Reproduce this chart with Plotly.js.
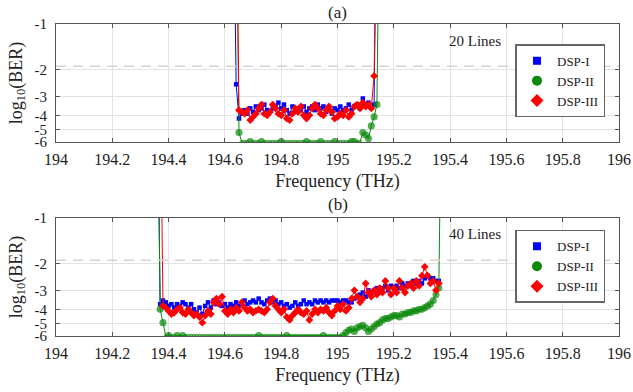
<!DOCTYPE html>
<html><head><meta charset="utf-8">
<script src="https://cdn.plot.ly/plotly-3.0.1.min.js"></script>
<style>html,body{margin:0;padding:0;background:#fff}#chart{width:633px;height:392px}</style>
</head><body><div id="chart"></div>
<script>
// ---- frequency grids (THz): start + step ----
const startA = 194.63;   // panel (a) first sample
const startB = 194.36;   // panel (b) first sample
const stepF = 0.01;

// ---- panel (a): 20 Lines, log10(BER) ----
const dsp1A = [
  -0.1, -2.5, -4.2, -3.9, -3.7, -3.9, -3.6, -3.8, -3.5, -3.7,
  -3.6, -3.4, -3.7, -3.8, -3.6, -3.5, -3.3, -3.6, -3.4, -3.7,
  -3.9, -3.5, -3.8, -3.6, -3.7, -3.5, -3.8, -3.6, -3.5, -3.7,
  -3.4, -3.6, -3.5, -3.8, -3.6, -3.9, -3.6, -3.7, -3.5, -3.7,
  -3.6, -3.4, -3.7, -3.5, -3.4, -3.6, -3.1, -3.4, -3.3, -3.5,
  -3.4, -0.1, null
];
const dsp2A = [
  null, -0.1, -5.2, -6, -6, -6, -5.95, -6, -6, -6,
  -5.95, -6, -6, -6, -6, -6, -6, -5.95, -6, -6,
  -6, -6, -6, -6, -6, -6, -5.95, -6, -6, -6,
  -6, -5.95, -6, -6, -6, -6, -5.95, -6, -6, -6,
  -6, -6, -5.95, -5.95, -6, -6, -5.2, -5.4, -5.7, -4.7,
  -4.1, -3.4, -0.1
];
const dsp3A = [
  null, -0.1, -3.7, -3.8, -3.9, -3.7, -4.3, -4.1, -3.9, -3.6,
  -3.4, -3.9, -4.0, -3.8, -3.4, -3.6, -3.9, -4.0, -3.7, -4.2,
  -4.3, -3.9, -3.6, -3.8, -3.5, -4.0, -4.2, -4.0, -3.6, -3.4,
  -3.6, -3.9, -4.0, -3.7, -3.5, -3.8, -4.2, -4.1, -3.9, -4.0,
  -3.7, -4.1, -3.9, -3.5, -3.4, -3.6, -3.3, -3.5, -3.4, -3.6,
  -2.2, -0.1, null
];

// ---- panel (b): 40 Lines, log10(BER) ----
const dsp1B = [
  -0.1, -3.7, -3.5, -3.6, -3.8, -3.7, -3.9, -3.7, -3.8, -3.6,
  -3.7, -3.9, -3.7, -4.0, -4.2, -3.9, -4.3, -3.8, -3.6, -3.9,
  -3.5, -3.7, -3.6, -3.8, -3.7, -3.9, -3.7, -3.8, -3.6, -3.8,
  -3.7, -3.5, -3.7, -3.6, -3.5, -3.6, -3.4, -3.6, -3.7, -3.5,
  -3.4, -3.6, -3.5, -3.7, -3.6, -3.8, -3.7, -3.9, -3.8, -3.6,
  -3.8, -3.7, -3.5, -3.7, -3.6, -3.7, -3.5, -3.6, -3.5, -3.6,
  -3.5, -3.6, -3.5, -3.5, -3.5, -3.6, -3.5, -3.5, -3.6, -3.6,
  -3.4, -3.3, -3.2, -3.1, -3.3, -3.0, -3.1, -3.0, -2.9, -3.1,
  -2.9, -2.8, -3.0, -2.8, -2.9, -2.8, -2.9, -2.7, -2.8, -2.7,
  -2.8, -2.6, -2.7, -2.6, -2.7, -2.5, -2.4, -2.5, -2.5, -2.6,
  -2.6, null
];
const dsp2B = [
  -0.1, -4.0, -4.9, -6, -5.95, -6, -6, -5.95, -6, -5.95,
  -6, -6, -6, -6, -6, -6, -6, -6, -6, -6,
  -6, -6, -6, -6, -6, -6, -6, -6, -6, -6,
  -6, -6, -6, -6, -6, -6, -5.95, -6, -6, -6,
  -6, -6, -6, -6, -6, -6, -5.95, -6, -6, -6,
  -6, -6, -6, -6, -6, -6, -6, -6, -6, -5.95,
  -6, -6, -6, -6, -6, -6, -5.95, -5.7, -5.5, -5.4,
  -5.6, -5.3, -5.2, -5.1, -5.3, -5.6, -5.4, -5.2, -5.0, -4.9,
  -4.7, -4.6, -4.6, -4.5, -4.4, -4.4, -4.5, -4.3, -4.3, -4.2,
  -4.2, -4.1, -4.1, -4.0, -4.0, -3.9, -3.8, -3.7, -3.5, -3.2,
  -2.9, -0.1
];
const dsp3B = [
  null, -0.1, -3.8, -3.9, -4.1, -4.3, -4.2, -4.0, -3.9, -4.2,
  -4.3, -4.0, -4.2, -4.4, -4.3, -4.5, -4.9, -4.4, -4.1, -4.3,
  -3.6, -3.4, -3.7, -3.3, -4.1, -4.3, -4.0, -4.2, -3.9, -4.1,
  -3.6, -3.9, -4.1, -4.0, -4.2, -4.1, -4.0, -4.1, -4.2, -4.0,
  -3.6, -3.4, -3.8, -4.0, -4.2, -4.0, -4.5, -4.7, -4.4, -4.2,
  -4.0, -4.2, -4.3, -4.1, -4.7, -4.3, -4.0, -4.2, -4.0, -4.1,
  -3.9, -4.2, -4.4, -4.1, -3.8, -4.0, -3.7, -4.1, -3.9, -3.4,
  -3.0, -3.3, -3.6, -3.4, -2.7, -3.1, -3.3, -3.0, -3.2, -2.9,
  -3.1, -2.6, -2.9, -3.2, -2.9, -3.1, -2.6, -2.9, -3.1, -2.8,
  -2.7, -2.9, -2.6, -2.8, -2.4, -2.1, -2.4, -2.7, -2.6, -3.0,
  -2.7, null
];

const thresholdLog = -1.9;  // dashed FEC limit
const seriesNames = ['DSP-I', 'DSP-II', 'DSP-III'];
const panelTitles = ['(a)', '(b)'];
const panelNotes = ['20 Lines', '40 Lines'];
const xTickVals = [194, 194.2, 194.4, 194.6, 194.8, 195, 195.2, 195.4, 195.6, 195.8, 196];
const xTickText = ['194', '194.2', '194.4', '194.6', '194.8', '195', '195.2', '195.4', '195.6', '195.8', '196'];
const yTickVals = [-1, -2, -3, -4, -5, -6];
const yTickText = ['-1', '-2', '-3', '-4', '-5', '-6'];

// ---- helpers ----
const freqs = (start, n) => Array.from({length: n}, (_, i) => +(start + stepF * i).toFixed(3));
const mag = arr => arr.map(v => v === null ? null : -v);   // plotted on reversed log axis of -log10(BER)

const FONT = '"Liberation Serif", serif';
const colors = ['#0000ff', '#0a8a0a', '#ff0000'];
const styles = [
  {symbol: 'square', size: 4.5},
  {symbol: 'circle', size: 6},
  {symbol: 'diamond', size: 6}
];
const legendSizes = [8, 10, 10];

function traces(axisSuffix, legendId, xs, data) {
  const out = [];
  data.forEach((arr, k) => {
    const m = {color: colors[k], symbol: styles[k].symbol, size: styles[k].size, line: {width: 0}};
    if (k === 1) {
      m.size = arr.map(v => (v !== null && v <= -6) ? 3.2 : styles[1].size);
      m.symbol = arr.map(v => (v !== null && v <= -6) ? 'circle-open' : 'circle');
      m.line = {width: 1.1, color: colors[1]};
    }
    out.push({
      type: 'scatter', mode: 'lines+markers', x: xs, y: mag(arr),
      xaxis: 'x' + axisSuffix, yaxis: 'y' + axisSuffix,
      line: {color: colors[k], width: 1}, marker: m,
      showlegend: false, connectgaps: false, hoverinfo: 'x+y'
    });
  });
  out.push({
    type: 'scatter', mode: 'lines', x: [xTickVals[0], xTickVals[xTickVals.length - 1]],
    y: [-thresholdLog, -thresholdLog], xaxis: 'x' + axisSuffix, yaxis: 'y' + axisSuffix,
    line: {color: '#d9d2c9', width: 1.6, dash: '10px,7px'}, showlegend: false, hoverinfo: 'skip'
  });
  seriesNames.forEach((nm, k) => {
    out.push({
      type: 'scatter', mode: 'markers', x: [null], y: [null], name: nm,
      xaxis: 'x' + axisSuffix, yaxis: 'y' + axisSuffix, legend: legendId,
      marker: {color: colors[k], symbol: styles[k].symbol, size: legendSizes[k]}
    });
  });
  return out;
}

const xA = freqs(startA, dsp1A.length);
const xB = freqs(startB, dsp1B.length);
const data = [
  ...traces('', 'legend', xA, [dsp1A, dsp2A, dsp3A]),
  ...traces('2', 'legend2', xB, [dsp1B, dsp2B, dsp3B])
];

function xaxis(anchor) {
  return {
    anchor: anchor, domain: [0, 1], range: [194, 196],
    tickvals: xTickVals, ticktext: xTickText,
    showgrid: true, gridcolor: '#e3e3e3', gridwidth: 1,
    showline: true, linecolor: '#555', linewidth: 1, mirror: 'ticks',
    ticks: 'inside', ticklen: 4, tickcolor: '#555',
    tickfont: {family: FONT, size: 16, color: '#222'},
    ticklabelstandoff: 3, zeroline: false,
    title: {text: 'Frequency (THz)', font: {family: FONT, size: 18, color: '#222'}, standoff: 7}
  };
}
function yaxis(anchor, dom) {
  return {
    anchor: anchor, domain: dom, type: 'log',
    range: [Math.log10(6), 0], autorange: false,
    tickvals: yTickVals.map(v => -v), ticktext: yTickText,
    showgrid: true, gridcolor: '#e3e3e3', gridwidth: 1,
    showline: true, linecolor: '#555', linewidth: 1, mirror: 'ticks',
    ticks: 'inside', ticklen: 4, tickcolor: '#555',
    tickfont: {family: FONT, size: 15, color: '#222'},
    ticklabelstandoff: 5, zeroline: false,
    title: {text: 'log<sub>10</sub>(BER)', font: {family: FONT, size: 18, color: '#222'}, standoff: 7}
  };
}
function legend(y) {
  return {
    x: 0.976, xanchor: 'right', y: y, yanchor: 'top',
    bgcolor: '#fff', bordercolor: '#666', borderwidth: 1.5,
    font: {family: FONT, size: 13, color: '#222'},
    itemwidth: 30, tracegroupgap: 0
  };
}

const ann = (text, xref, yref, x, y, size) => ({
  text: text, xref: xref, yref: yref, x: x, y: y, xanchor: 'center', yanchor: 'middle',
  showarrow: false, font: {family: FONT, size: size, color: '#222'}
});

const layout = {
  width: 633, height: 392,
  margin: {l: 56, r: 14, t: 24, b: 56},
  paper_bgcolor: '#fff', plot_bgcolor: '#fff',
  font: {family: FONT, color: '#222'},
  xaxis: xaxis('y'), yaxis: yaxis('x', [0.6218, 1]),
  xaxis2: xaxis('y2'), yaxis2: yaxis('x2', [0, 0.3782]),
  legend: legend(0.935), legend2: legend(0.34),
  showlegend: true,
  annotations: [
    ann(panelTitles[0], 'paper', 'paper', 0.5, 1.038, 17),
    ann(panelTitles[1], 'paper', 'paper', 0.5, 0.42, 17),
    ann(panelNotes[0], 'x domain', 'y domain', 0.745, 0.856, 15),
    ann(panelNotes[1], 'x2 domain', 'y2 domain', 0.745, 0.862, 15)
  ]
};

Plotly.newPlot('chart', data, layout, {displayModeBar: false, staticPlot: true});
</script>
</body></html>
